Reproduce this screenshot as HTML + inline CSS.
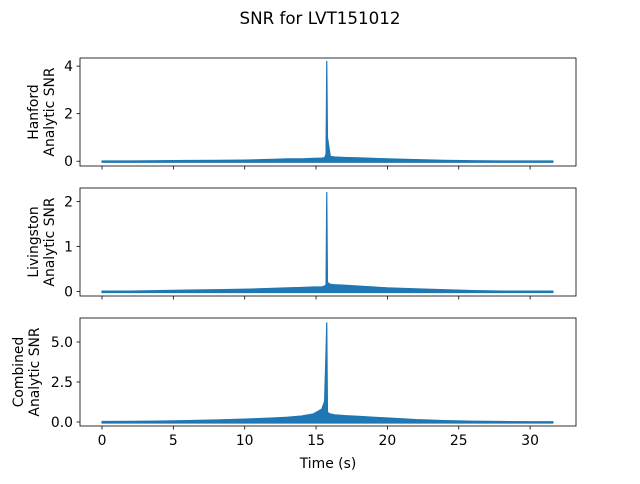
<!DOCTYPE html>
<html><head><meta charset="utf-8"><style>
body{margin:0;background:#fff;font-family:"DejaVu Sans",sans-serif}
svg text{font-family:"DejaVu Sans",sans-serif;fill:#000}
</style></head><body>
<svg id="c" width="640" height="480" xmlns="http://www.w3.org/2000/svg">
<text x="320" y="24" font-size="16.7" text-anchor="middle">SNR for LVT151012</text>
</svg>
<script>
const xTicks=[0,5,10,15,20,25,30];
const envTimes=[0,2,4,6,8,10,12,13,14,14.8,15.4,15.6,15.7,15.75,15.8,16.0,16.3,17,18,19,20,22,24,26,28,30,31.6];
const hanfordEnv=[0.01,0.01,0.02,0.03,0.04,0.05,0.08,0.1,0.1,0.12,0.13,0.15,0.3,4.2,1.0,0.2,0.18,0.16,0.14,0.12,0.1,0.07,0.04,0.02,0.01,0.01,0.01];
const livingstonEnv=[0.01,0.01,0.02,0.03,0.04,0.05,0.07,0.08,0.09,0.1,0.1,0.12,0.15,2.2,0.2,0.16,0.15,0.14,0.12,0.1,0.08,0.06,0.04,0.02,0.01,0.01,0.01];
const combinedEnv=[0.03,0.04,0.06,0.09,0.13,0.18,0.25,0.3,0.38,0.5,0.8,1.3,4.4,6.2,0.6,0.5,0.45,0.4,0.35,0.3,0.25,0.15,0.09,0.05,0.03,0.02,0.02];
const panels=[
 {name:"hanford",label:["Hanford","Analytic SNR"],lx:[38,54],top:58,bottom:166,ymin:-0.2,ymax:4.34,ticks:[0,2,4],tl:["0","2","4"],env:hanfordEnv},
 {name:"livingston",label:["Livingston","Analytic SNR"],lx:[38,54],top:188,bottom:296,ymin:-0.1,ymax:2.3,ticks:[0,1,2],tl:["0","1","2"],env:livingstonEnv},
 {name:"combined",label:["Combined","Analytic SNR"],lx:[23,39],top:318,bottom:426,ymin:-0.25,ymax:6.5,ticks:[0,2.5,5.0],tl:["0.0","2.5","5.0"],env:combinedEnv}
];
const svg=document.getElementById('c');const NS="http://www.w3.org/2000/svg";
const L=80,R=576;
function xs(t){return 102+t*14.27;}
function mk(tag,attrs,parent){const e=document.createElementNS(NS,tag);for(const k in attrs)e.setAttribute(k,attrs[k]);(parent||svg).appendChild(e);return e;}
panels.forEach((p,pi)=>{
 const ys=v=>p.bottom-(v-p.ymin)/(p.ymax-p.ymin)*(p.bottom-p.top);
 const g=mk('g',{});
 
 
 let pts=envTimes.map((t,i)=>xs(t)+','+ys(p.env[i])).join(' ');
 pts+=' '+xs(31.6)+','+(ys(0)+1)+' '+xs(0)+','+(ys(0)+1);
 const poly=mk('polygon',{points:pts,fill:'#1f77b4',stroke:'#1f77b4','stroke-width':1.2,'stroke-linejoin':'round'},g);
 
 
 const fr=mk('rect',{x:L,y:p.top,width:R-L,height:p.bottom-p.top,fill:'none',stroke:'#000','stroke-width':0.8},g);
 
 
 p.ticks.forEach((v,i)=>{
  const y=ys(v);
  mk('line',{x1:L-3.5,x2:L,y1:y,y2:y,stroke:'#000','stroke-width':0.8},g);
  const t=mk('text',{x:L-7,y:y+5,'font-size':13.9,'text-anchor':'end'},g);t.textContent=p.tl[i];
  
  
 });
 xTicks.forEach(v=>{
  mk('line',{x1:xs(v),x2:xs(v),y1:p.bottom,y2:p.bottom+3.5,stroke:'#000','stroke-width':0.8},g);
  if(pi===2){const t=mk('text',{x:xs(v),y:p.bottom+19,'font-size':13.9,'text-anchor':'middle'},g);t.textContent=v;
   
   }
 });
 const cy=(p.top+p.bottom)/2;
 const yl=mk('text',{transform:`translate(0,${cy}) rotate(-90)`,'font-size':13.9,'text-anchor':'middle'},g);
 
 
 mk('tspan',{x:0,y:p.lx[0]},yl).textContent=p.label[0];
 mk('tspan',{x:0,y:p.lx[1]},yl).textContent=p.label[1];
});
const xl=mk('text',{x:328,y:468,'font-size':13.9,'text-anchor':'middle'});xl.textContent='Time (s)';


</script>
</body></html>
